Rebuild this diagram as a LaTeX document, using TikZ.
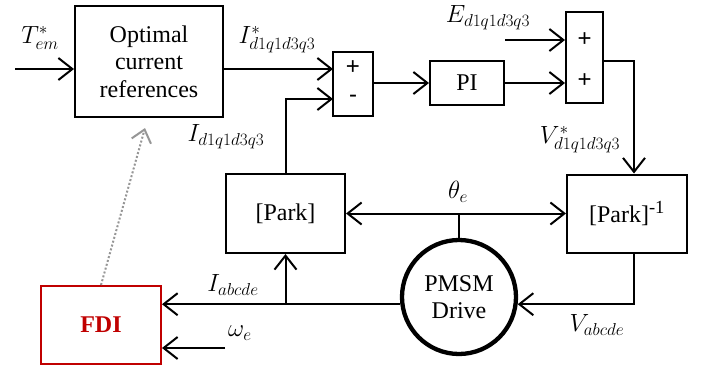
\documentclass[tikz,border=0pt]{standalone}
\usepackage{fontspec}
\setmainfont{Liberation Serif}
\newfontfamily\serifont{Liberation Serif}
\newfontfamily\sgnfont{Liberation Sans}
\usetikzlibrary{arrows.meta,calc}
\DeclareMathSizes{24}{24}{18.5}{14}
\definecolor{fdired}{RGB}{192,0,0}
\definecolor{dotgray}{RGB}{150,150,150}
\begin{document}
\begin{tikzpicture}[x=1pt,y=-1pt,
  blk/.style={draw, line width=2pt, inner sep=0pt, align=center, font=\serifont\fontsize{24}{27.5}\selectfont},
  arr/.style={line width=2pt, -{Straight Barb[length=14pt,width=22pt,line width=2pt]}},
  dbl/.style={line width=2pt, {Straight Barb[length=14pt,width=22pt,line width=2pt]}-{Straight Barb[length=14pt,width=22pt,line width=2pt]}},
  ln/.style={line width=2pt},
  lbl/.style={font=\fontsize{24}{26}\selectfont, inner sep=0pt},
  sgn/.style={font=\sgnfont\fontsize{24}{26}\selectfont, inner sep=0pt}]
\useasboundingbox (0,0) rectangle (706,370);
% blocks
\node[blk, minimum width=148pt, minimum height=111pt] (opt) at (149,61.5) {Optimal\\current\\references};
\node[blk, minimum width=40pt, minimum height=64pt] (s1) at (353,84) {};
\node[sgn] (s1p) at (353,68) {+};
\node[sgn] (s1m) at (353,99) {-};
\node[blk, minimum width=74pt, minimum height=44pt] (pi) at (467,83) {PI};
\node[blk, minimum width=37pt, minimum height=91pt] (s2) at (584.5,57.5) {};
\node[sgn] (s2a) at (584.5,40) {+};
\node[sgn] (s2b) at (584.5,81) {+};
\node[blk, minimum width=119pt, minimum height=79pt] (park) at (285.5,213.5) {[Park]};
\node[blk, minimum width=120pt, minimum height=78pt] (pinv) at (627,213.5) {[Park]\textsuperscript{-1}};
\node[blk, circle, line width=4.3pt, minimum size=114pt] (pm) at (459,297) {PMSM\\Drive};
\node[blk, draw=fdired, text=fdired, minimum width=120pt, minimum height=78pt, font=\serifont\bfseries\fontsize{24}{26}\selectfont] (fdi) at (101,325) {FDI};
% coordinates
\coordinate (tin) at (15,69);
\coordinate (iref) at (333,69);
\coordinate (ifb) at (333,99);
\coordinate (ein) at (505,40);
\coordinate (vcol) at (634,61);
\coordinate (win) at (225,348);
\coordinate (th) at (459,213.5);
% connectors
\draw[arr] (tin) -- (opt.west |- tin);
\draw[arr] (opt.east |- iref) -- (iref);
\draw[arr] (park.north) |- (ifb);
\draw[arr] (s1.east |- pi.west) -- (pi.west);
\draw[arr] (pi.east) -- (s2.west |- pi.east);
\draw[arr] (ein) -- (s2.west |- ein);
\draw[arr] (s2.east |- vcol) -| (pinv.north -| vcol);
\draw[dbl] (park.east) -- (pinv.west);
\draw[ln] (th) -- (pm.north);
\draw[arr] (pinv.south -| vcol) |- (pm.-7);
\draw[arr] (pm.187) -- (fdi.east |- pm.187);
\draw[arr] (park.south |- pm.187) -- (park.south);
\draw[arr] (win) -- (fdi.east |- win);
\draw[line width=2pt, dotgray, dotted, -{Straight Barb[length=12pt,width=20pt,line width=2pt]}] (fdi.north) -- ($(opt.south)+(-4,10)$);
% labels
\node[lbl] (lt) at (40,38) {$T^{*}_{em}$};
\node[lbl] (li) at (277,40) {$I^{*}_{d1q1d3q3}$};
\node[lbl] (lif) at (226,137) {$I_{d1q1d3q3}$};
\node[lbl] (le) at (488,18) {$E_{d1q1d3q3}$};
\node[lbl] (lv) at (580,140) {$V^{*}_{d1q1d3q3}$};
\node[lbl] (lth) at (458,192) {$\theta_{e}$};
\node[lbl] (lva) at (597,325) {$V_{abcde}$};
\node[lbl] (lia) at (233,285) {$I_{abcde}$};
\node[lbl] (lw) at (240,333) {$\omega_{e}$};
\end{tikzpicture}
\end{document}
